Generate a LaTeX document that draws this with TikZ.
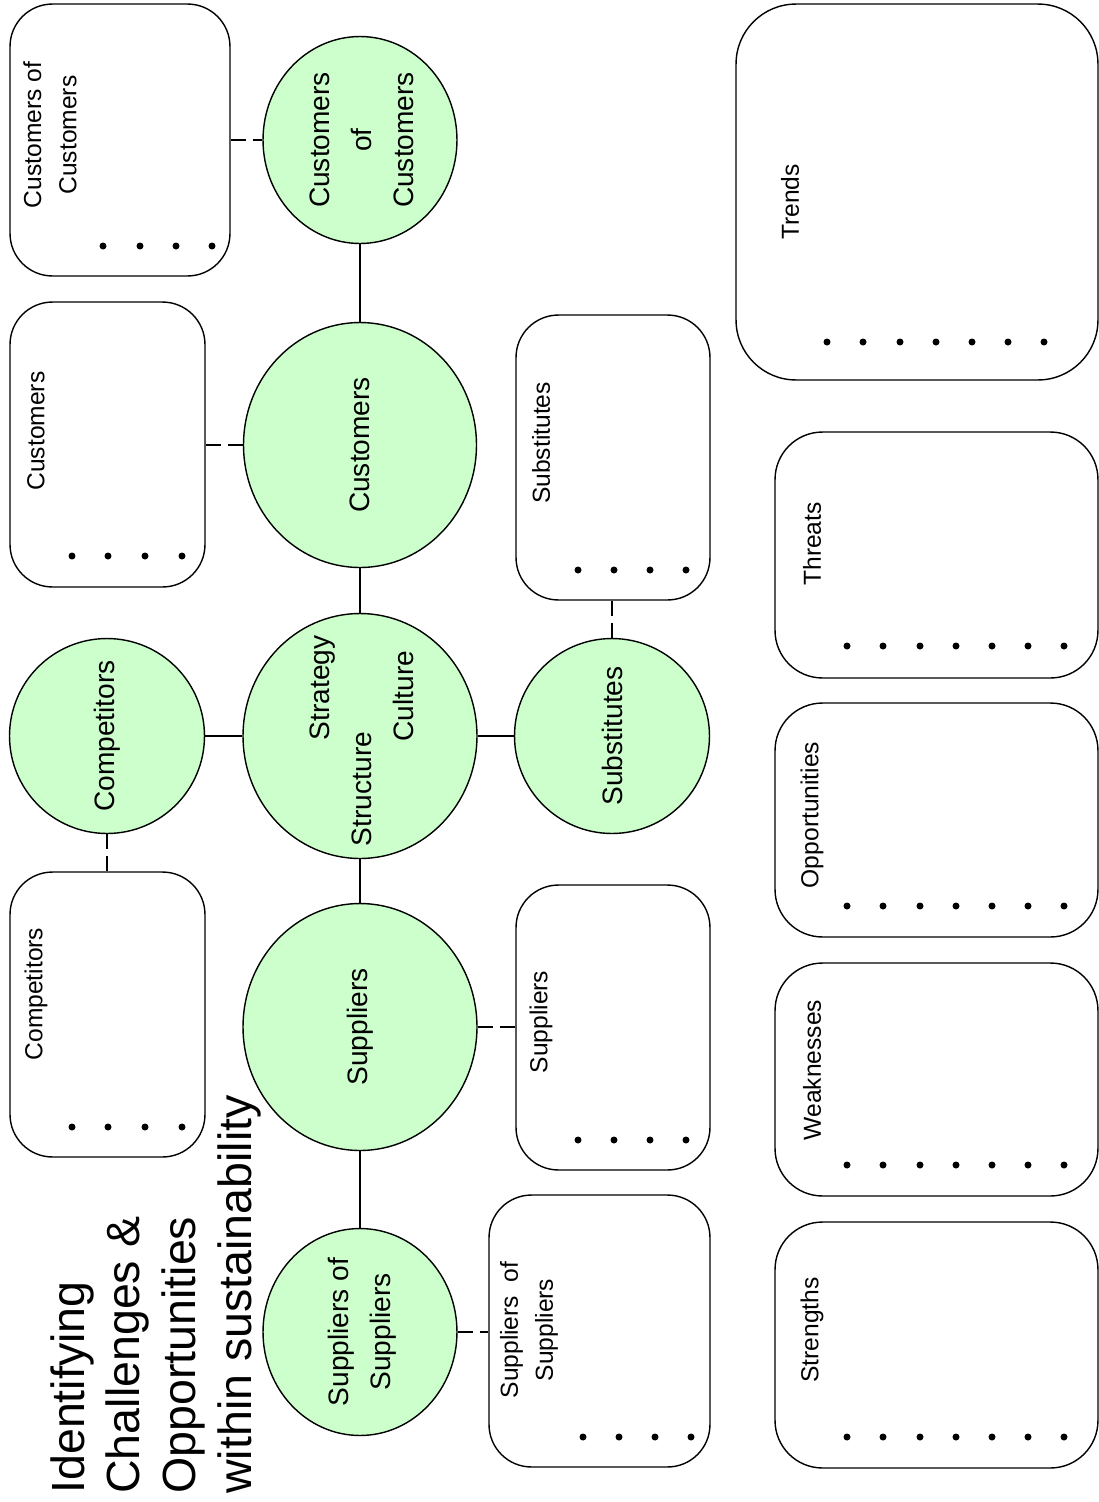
\documentclass[tikz,border=0pt]{standalone}
\usepackage{fontspec}
\setmainfont{Liberation Sans}
\usetikzlibrary{shapes.geometric}
\definecolor{ringgreen}{HTML}{CCFFCC}
\tikzset{
  ring/.style={ellipse, draw, fill=ringgreen, line width=0.8pt, inner sep=0pt},
  pane/.style={draw, rounded corners=0.85cm, line width=0.8pt, inner sep=0pt},
  ringtext/.style={rotate=90, align=center, inner sep=0pt, font=\fontsize{16}{24}\selectfont},
  panetext/.style={rotate=90, align=center, inner sep=0pt, font=\fontsize{14}{20}\selectfont},
  link/.style={line width=0.8pt},
  dashlink/.style={line width=1.3pt, dash pattern=on 8.5pt off 4pt},
}
\begin{document}
\begin{tikzpicture}[x=0.02cm, y=-0.02cm]
  \useasboundingbox (0,0) rectangle (1099,1502);
  % title
  \node[rotate=90, anchor=north west, align=left, inner sep=0pt,
        font=\fontsize{26.5}{31.8}\selectfont] (title) at (50,1494)
        {Identifying\\Challenges \&\\Opportunities\\within sustainability};
  % circles
  \node[ring, minimum width=3.88cm, minimum height=4.14cm] (coc) at (360,140) {};
  \node[ring, minimum width=4.66cm, minimum height=4.9cm] (cus) at (360,445) {};
  \node[ring, minimum width=4.68cm, minimum height=4.9cm] (core) at (360,736) {};
  \node[ring, minimum width=3.9cm, minimum height=3.9cm] (com) at (107,736) {};
  \node[ring, minimum width=3.9cm, minimum height=3.9cm] (sub) at (612,736) {};
  \node[ring, minimum width=4.68cm, minimum height=4.94cm] (sup) at (360,1027) {};
  \node[ring, minimum width=3.88cm, minimum height=4.14cm] (sos) at (360,1332) {};
  \node[ringtext] (coctxt) at (362,140) {Customers\\of\\Customers};
  \node[ringtext] (custxt) at (cus) {Customers};
  \node[ringtext] (strategy) at (323,688) {Strategy};
  \node[ringtext] (structure) at (362,789) {Structure};
  \node[ringtext] (culture) at (403,696) {Culture};
  \node[ringtext] (comtxt) at (com) {Competitors};
  \node[ringtext] (subtxt) at (sub) {Substitutes};
  \node[ringtext] (suptxt) at (sup) {Suppliers};
  \node[ringtext] (sostxt) at (362,1332) {Suppliers of\\Suppliers};
  % boxes
  \node[pane, minimum width=4.4cm, minimum height=5.44cm] (cocbox) at (120,140) {};
  \node[pane, minimum width=3.9cm, minimum height=5.7cm] (cusbox) at (107.5,444.5) {};
  \node[pane, minimum width=3.9cm, minimum height=5.7cm] (combox) at (107.5,1014.5) {};
  \node[pane, minimum width=3.88cm, minimum height=5.7cm] (subbox) at (613,457.5) {};
  \node[pane, minimum width=3.88cm, minimum height=5.7cm] (supbox) at (613,1027.5) {};
  \node[pane, minimum width=4.42cm, minimum height=5.44cm] (sosbox) at (599.5,1331) {};
  \node[pane, rounded corners=1.2cm, minimum width=7.24cm, minimum height=7.52cm] (trendbox) at (917,192) {};
  \node[pane, rounded corners=0.95cm, minimum width=6.46cm, minimum height=4.92cm] (threatbox) at (936.5,555) {};
  \node[pane, rounded corners=0.95cm, minimum width=6.46cm, minimum height=4.68cm] (oppbox) at (936.5,820) {};
  \node[pane, rounded corners=0.95cm, minimum width=6.46cm, minimum height=4.66cm] (weakbox) at (936.5,1079.5) {};
  \node[pane, rounded corners=0.95cm, minimum width=6.46cm, minimum height=4.92cm] (strbox) at (936.5,1345) {};
  \node[panetext] (coclbl) at (50,135) {Customers of\\Customers};
  \node[panetext] (cuslbl) at (36,431) {Customers};
  \node[panetext] (comlbl) at (36,994) {Competitors};
  \node[panetext] (sublbl) at (541,443) {Substitutes};
  \node[panetext] (suplbl) at (541,1022) {Suppliers};
  \node[panetext] (soslbl) at (529,1330) {Suppliers~ of\\Suppliers};
  \node[panetext] (trendlbl) at (790,202) {Trends};
  \node[panetext] (threatlbl) at (812,544) {Threats};
  \node[panetext] (opplbl) at (812,815) {Opportunities};
  \node[panetext] (weaklbl) at (812,1070) {Weaknesses};
  \node[panetext] (strlbl) at (812,1330) {Strengths};
  % dots
  \foreach \x in {103,140,176,212} \fill (\x,246) circle (3.5);
  \foreach \x in {72,108,145,182} {\fill (\x,556) circle (3.5); \fill (\x,1127) circle (3.5);}
  \foreach \x in {578,614,650,686} {\fill (\x,570) circle (3.5); \fill (\x,1140) circle (3.5);}
  \foreach \x in {583,619,655,691} \fill (\x,1437) circle (3.5);
  \foreach \x in {827,863,900,936,972,1008,1044} \fill (\x,342) circle (3.5);
  \foreach \x in {847,883,920,956,992,1028,1064}
    {\fill (\x,646) circle (3.5); \fill (\x,906) circle (3.5);
     \fill (\x,1165) circle (3.5); \fill (\x,1437) circle (3.5);}
  % connectors
  \draw[link] (coc.south) -- (cus.north);
  \draw[link] (cus.south) -- (core.north);
  \draw[link] (core.south) -- (sup.north);
  \draw[link] (sup.south) -- (sos.north);
  \draw[link] (com.east) -- (core.west);
  \draw[link] (core.east) -- (sub.west);
  \draw[dashlink] (cocbox.east |- coc.west) -- (coc.west);
  \draw[dashlink] (cusbox.east |- cus.west) -- (cus.west);
  \draw[dashlink] (com.south) -- (com.south |- combox.north);
  \draw[dashlink] (subbox.south -| sub.north) -- (sub.north);
  \draw[dashlink] (sup.east) -- (sup.east -| supbox.west);
  \draw[dashlink] (sos.east) -- (sos.east -| sosbox.west);
\end{tikzpicture}
\end{document}
